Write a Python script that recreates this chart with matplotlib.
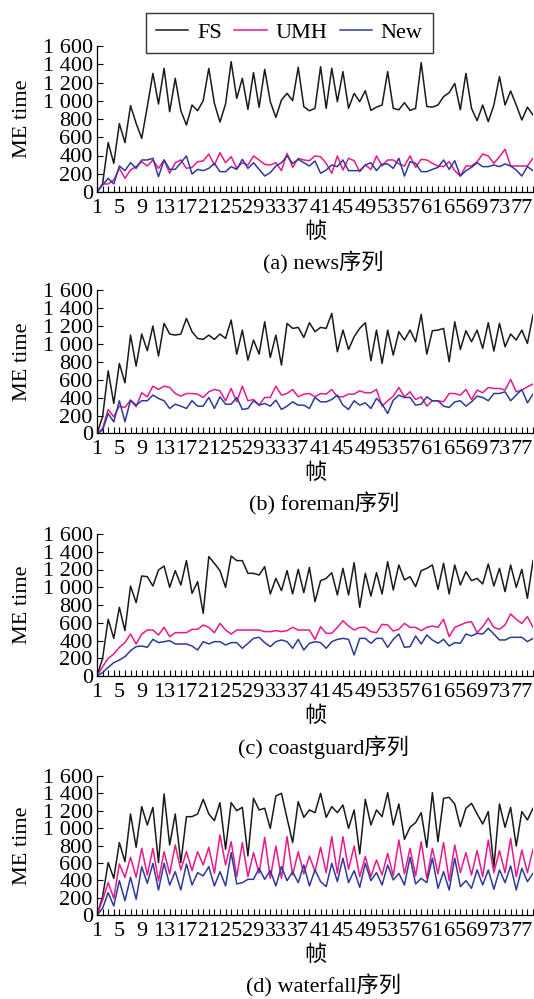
import numpy as np
import matplotlib
matplotlib.use("Agg")
import matplotlib.pyplot as plt

plt.rcParams['font.family'] = ['Liberation Serif', 'Noto Sans CJK SC']
plt.rcParams['font.size'] = 16

# DATA (frames 1..79)
fs_news = [0, 90, 541, 314, 749, 541, 946, 753, 588, 935, 1300, 964, 1355, 880, 1246, 891, 734, 953, 891, 1001,
           1355, 972, 767, 964, 1428, 1026, 1246, 906, 1308, 928, 1344, 990, 818, 1008, 1081, 1001, 1366, 935, 890, 917,
           1373, 917, 1356, 990, 1319, 917, 1081, 990, 1110, 894, 930, 953, 1319, 917, 901, 979, 894, 917, 1418, 938,
           930, 953, 1045, 1088, 1190, 901, 1300, 917, 782, 953, 771, 953, 1264, 953, 1107, 953, 789, 930, 844]
umh_news = [0, 88, 88, 132, 259, 150, 241, 278, 332, 285, 351, 259, 351, 205, 321, 351, 259, 270, 332, 340,
            416, 296, 431, 321, 387, 259, 321, 296, 395, 351, 303, 296, 321, 234, 424, 270, 369, 351, 343, 395,
            387, 314, 205, 395, 241, 369, 343, 223, 296, 248, 395, 285, 351, 351, 307, 285, 395, 270, 358, 351,
            314, 285, 278, 332, 234, 175, 285, 285, 332, 416, 395, 314, 387, 468, 285, 285, 285, 285, 369]
new_news = [0, 77, 150, 88, 285, 234, 321, 259, 351, 351, 369, 168, 351, 248, 248, 321, 395, 197, 248, 234,
            259, 314, 223, 223, 278, 248, 358, 259, 321, 248, 175, 212, 285, 321, 395, 314, 358, 321, 285, 340,
            205, 241, 296, 278, 351, 234, 234, 234, 296, 321, 234, 307, 307, 259, 369, 175, 332, 314, 223, 223,
            248, 270, 351, 248, 343, 175, 234, 270, 321, 278, 278, 296, 278, 307, 285, 241, 175, 278, 234]

fs_foreman = [0, 186, 699, 335, 781, 565, 1097, 751, 1109, 923, 1198, 863, 1228, 1109, 1097, 1109, 1283, 1135, 1060, 1049,
              1097, 1049, 1109, 1060, 1265, 885, 1153, 818, 1042, 885, 1246, 848, 1097, 763, 1228, 1172, 1183, 1071, 1235, 1135,
              1183, 1172, 1339, 911, 1153, 937, 1079, 1172, 1235, 811, 1153, 781, 1153, 874, 1135, 1042, 1153, 1023, 1328, 885,
              1146, 1153, 1172, 800, 1246, 937, 1146, 1023, 1153, 949, 1235, 919, 1228, 967, 1109, 1042, 1153, 1004, 1321]
umh_foreman = [0, 56, 268, 186, 305, 290, 372, 298, 454, 409, 528, 491, 528, 513, 446, 417, 446, 446, 439, 402,
               465, 491, 476, 365, 502, 353, 528, 365, 379, 316, 402, 402, 528, 428, 446, 491, 409, 439, 446, 409,
               446, 439, 491, 409, 409, 439, 439, 476, 454, 454, 491, 305, 365, 417, 513, 409, 465, 379, 409, 305,
               365, 365, 353, 446, 446, 428, 491, 379, 484, 454, 513, 502, 502, 484, 603, 465, 484, 521, 551]
new_foreman = [0, 37, 223, 130, 365, 130, 372, 316, 365, 365, 428, 391, 365, 279, 327, 305, 279, 365, 305, 305,
               402, 279, 409, 327, 327, 402, 268, 279, 365, 316, 335, 305, 372, 268, 305, 353, 316, 316, 279, 402,
               353, 353, 379, 428, 316, 268, 365, 316, 342, 279, 391, 327, 223, 372, 428, 402, 402, 316, 327, 409,
               365, 365, 305, 290, 353, 365, 305, 353, 417, 402, 365, 446, 446, 465, 365, 428, 491, 342, 439]

fs_coast = [0, 199, 639, 424, 774, 511, 1014, 826, 1127, 1119, 1014, 1194, 1239, 999, 1187, 1025, 1300, 931, 1063, 706,
            1345, 1270, 1187, 999, 1352, 1300, 1300, 1157, 1157, 1138, 1232, 924, 1100, 962, 1187, 924, 1202, 939, 1224, 838,
            1074, 1100, 1164, 913, 1213, 913, 1277, 774, 1157, 901, 1164, 924, 1288, 969, 1251, 1082, 1119, 1007, 1187, 1213,
            1251, 977, 1270, 924, 1251, 1025, 1176, 1074, 1100, 1037, 1262, 1014, 1213, 950, 1251, 999, 1202, 875, 1300]
umh_coast = [0, 105, 199, 248, 323, 376, 473, 361, 473, 518, 518, 462, 548, 443, 488, 488, 488, 526, 526, 575,
             548, 488, 593, 518, 473, 518, 518, 518, 518, 518, 500, 500, 511, 500, 511, 548, 518, 518, 518, 413,
             556, 481, 481, 548, 623, 563, 518, 548, 548, 500, 488, 582, 575, 507, 526, 593, 548, 548, 511, 548,
             563, 548, 639, 443, 548, 575, 601, 612, 488, 556, 650, 548, 526, 575, 699, 639, 593, 669, 548]
new_coast = [0, 38, 98, 150, 180, 218, 285, 331, 338, 323, 413, 376, 387, 398, 361, 361, 361, 338, 293, 387,
             361, 387, 387, 349, 376, 376, 312, 368, 424, 436, 376, 331, 387, 406, 387, 312, 413, 293, 368, 387,
             376, 312, 387, 413, 424, 413, 237, 424, 424, 368, 424, 424, 323, 413, 473, 323, 331, 451, 361, 462,
             406, 368, 413, 338, 376, 368, 473, 451, 481, 473, 537, 473, 406, 406, 436, 436, 436, 387, 424]

fs_water = [0, 214, 605, 425, 835, 616, 1164, 781, 1248, 1037, 1240, 605, 1393, 808, 1164, 605, 1133, 1133, 1164, 1332,
            1164, 1087, 1294, 758, 1294, 1202, 1240, 681, 1344, 1210, 1229, 999, 1370, 1401, 1114, 835, 1305, 1125, 1210, 1179,
            1401, 1125, 1248, 1179, 1267, 999, 1210, 704, 1332, 1037, 1210, 1133, 1409, 1037, 1279, 873, 1011, 1064, 1179, 781,
            1409, 846, 1344, 1355, 1279, 1018, 1229, 1286, 1164, 1049, 1191, 551, 1279, 1011, 1240, 796, 1191, 1095, 1229]
umh_water = [0, 176, 375, 195, 590, 436, 666, 436, 769, 463, 769, 398, 731, 475, 808, 521, 731, 513, 731, 578,
             781, 482, 923, 578, 846, 444, 835, 444, 720, 482, 896, 425, 796, 425, 903, 463, 731, 475, 681, 501,
             781, 490, 903, 482, 903, 528, 796, 444, 674, 444, 635, 463, 712, 452, 865, 475, 769, 452, 846, 425,
             769, 475, 835, 398, 808, 490, 720, 463, 743, 444, 865, 490, 743, 490, 884, 444, 750, 490, 758]
new_water = [0, 80, 260, 107, 398, 168, 436, 184, 559, 367, 597, 291, 597, 348, 501, 291, 590, 348, 490, 452,
             559, 337, 501, 337, 720, 360, 375, 413, 413, 540, 413, 513, 337, 559, 398, 501, 375, 578, 337, 521,
             387, 329, 597, 387, 655, 375, 513, 322, 597, 398, 490, 348, 578, 406, 482, 348, 666, 360, 425, 375,
             655, 310, 501, 291, 655, 329, 398, 310, 521, 348, 521, 299, 521, 375, 567, 291, 540, 387, 482]

series_names = ['FS', 'UMH', 'New']
series_colors = ['#1a1a1a', '#e8198b', '#2e3a9a']
captions = ['(a) news序列', '(b) foreman序列', '(c) coastguard序列', '(d) waterfall序列']
panels = [(fs_news, umh_news, new_news),
          (fs_foreman, umh_foreman, new_foreman),
          (fs_coast, umh_coast, new_coast),
          (fs_water, umh_water, new_water)]
y_ticks = [0, 200, 400, 600, 800, 1000, 1200, 1400, 1600]
y_ticklabels = ['0', '200', '400', '600', '800', '1 000', '1 200', '1 400', '1 600']
x_ticklabel_frames = list(range(1, 78, 4))

W, H = 534, 999
fig = plt.figure(figsize=(W / 100, H / 100), dpi=100)

# axes boxes in pixels: (left, top, right, bottom)
boxes = [(97, 46, 533, 192), (97, 290, 533, 433.5), (97, 534, 533, 676), (97, 776, 533, 915.3)]

lines = []
for box, data, cap in zip(boxes, panels, captions):
    l, t, r, b = box
    ax = fig.add_axes([l / W, 1 - b / H, (r - l) / W, (b - t) / H])
    n = len(data[0])
    frames = np.arange(1, n + 1)
    lines = []
    for vals, name, col in zip(data, series_names, series_colors):
        ln, = ax.plot(frames, vals, color=col, lw=1.1, label=name)
        lines.append(ln)
    ax.set_xlim(1, 79)
    ax.set_ylim(0, 1600)
    ax.set_yticks(y_ticks)
    ax.set_yticklabels(y_ticklabels)
    ax.set_xticks(np.arange(1, 80))
    ax.set_xticklabels([str(f) if f in x_ticklabel_frames else '' for f in range(1, 80)])
    ax.tick_params(axis='both', direction='in', length=4, width=0.8, labelsize=16, pad=3)
    ax.tick_params(axis='x', pad=5)
    for s in ['top', 'right']:
        ax.spines[s].set_visible(False)
    for s in ['left', 'bottom']:
        ax.spines[s].set_linewidth(0.9)
    ax.set_ylabel('ME time', fontsize=16)
    ax.yaxis.set_label_coords(-0.15, 0.5)
    ax.annotate('帧', xy=(0.5, 0), xycoords='axes fraction', xytext=(0, -29),
                textcoords='offset points', ha='center', va='center', fontsize=16)
    ax.annotate(cap, xy=(0.52, 0), xycoords='axes fraction', xytext=(0, -51),
                textcoords='offset points', ha='center', va='center', fontsize=16)

leg = fig.legend(lines, series_names, loc='center', bbox_to_anchor=(0.542, 0.967), ncol=3,
                 frameon=True, fancybox=False, edgecolor='black', fontsize=16,
                 handlelength=1.45, columnspacing=0.55, handletextpad=0.4, borderpad=0.45)
leg.get_frame().set_linewidth(1.0)

fig.savefig('out.png', dpi=100)
